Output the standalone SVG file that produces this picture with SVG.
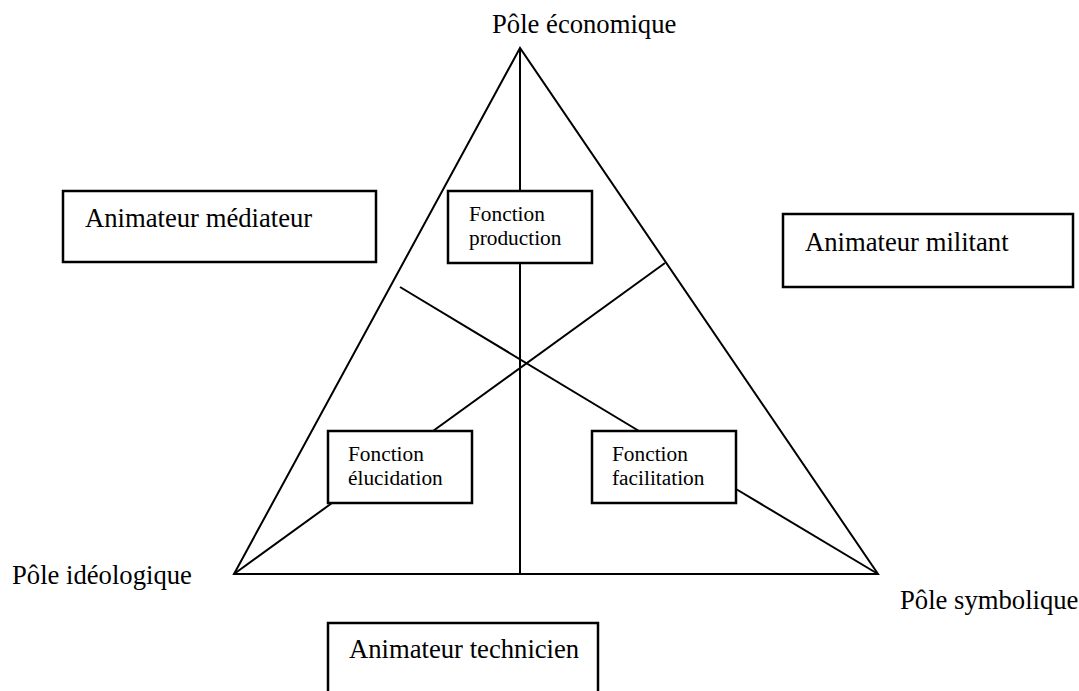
<svg xmlns="http://www.w3.org/2000/svg" width="1079" height="691" viewBox="0 0 1079 691">
<style>
.ln{stroke:#000;stroke-width:2;fill:none}
.bx{stroke:#000;stroke-width:2.5;fill:#fff}
.big{font-family:"Liberation Serif","Times New Roman",serif;font-size:26.67px;fill:#000}
.sm{font-family:"Liberation Serif","Times New Roman",serif;font-size:21.33px;fill:#000}
</style>
<rect width="1079" height="691" fill="#fff"/>
<g id="connectors">
<polygon class="ln" points="520,48 234,574 878,574"/>
<line class="ln" x1="520" y1="48" x2="520" y2="191"/>
<line class="ln" x1="520" y1="263" x2="520" y2="574"/>
<line class="ln" x1="400" y1="287" x2="639" y2="431"/>
<line class="ln" x1="665" y1="263" x2="433" y2="431"/>
<line class="ln" x1="332" y1="503" x2="234" y2="574"/>
<line class="ln" x1="736" y1="489" x2="878" y2="574"/>
</g>
<g id="pole-economique"><text class="big" x="492" y="33">Pôle économique</text></g>
<g id="pole-ideologique"><text class="big" x="12" y="584">Pôle idéologique</text></g>
<g id="pole-symbolique"><text class="big" x="900" y="609">Pôle symbolique</text></g>
<g id="animateur-mediateur">
<rect class="bx" x="63" y="191" width="313" height="71"/>
<text class="big" x="85" y="227">Animateur médiateur</text>
</g>
<g id="animateur-militant">
<rect class="bx" x="783" y="214" width="290" height="73"/>
<text class="big" x="805" y="251">Animateur militant</text>
</g>
<g id="animateur-technicien">
<rect class="bx" x="328" y="623" width="270" height="80"/>
<text class="big" x="349" y="658">Animateur technicien</text>
</g>
<g id="fonction-production">
<rect class="bx" x="448" y="191" width="144" height="72"/>
<text class="sm" x="469" y="221">Fonction</text>
<text class="sm" x="469" y="245">production</text>
</g>
<g id="fonction-elucidation">
<rect class="bx" x="328" y="431" width="144" height="72"/>
<text class="sm" x="348" y="461">Fonction</text>
<text class="sm" x="348" y="485">élucidation</text>
</g>
<g id="fonction-facilitation">
<rect class="bx" x="592" y="431" width="144" height="72"/>
<text class="sm" x="612" y="461">Fonction</text>
<text class="sm" x="612" y="485">facilitation</text>
</g>
</svg>
